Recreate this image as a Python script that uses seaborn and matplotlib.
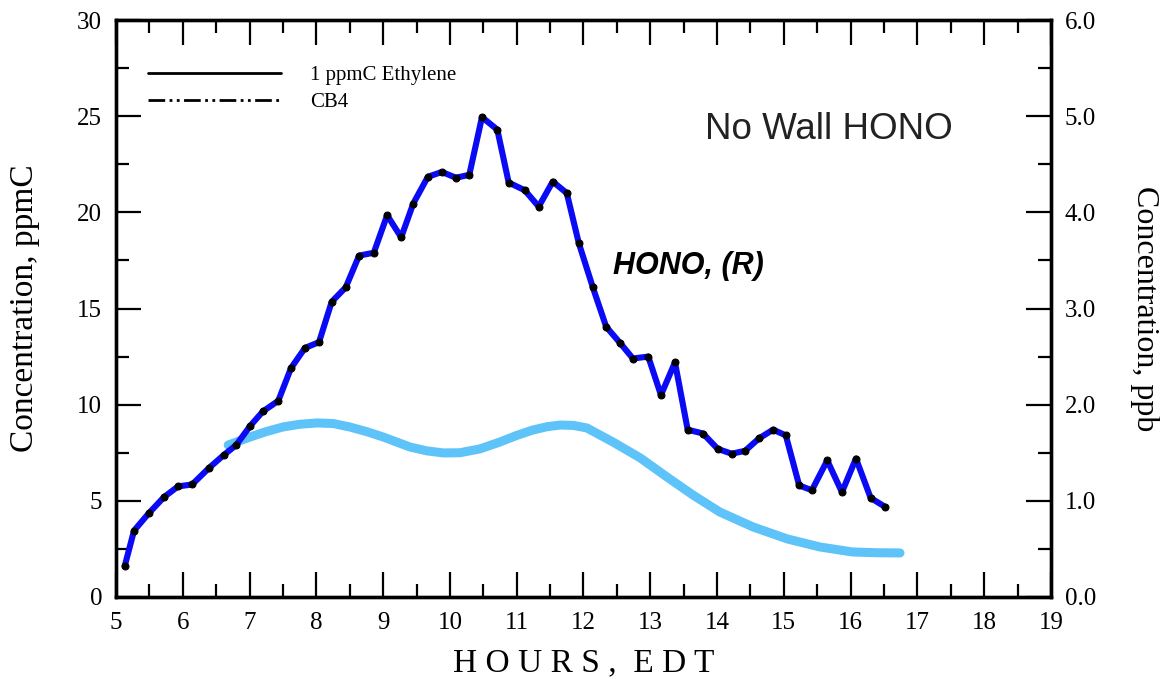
import numpy as np
import pandas as pd
import matplotlib
matplotlib.use("Agg")
import matplotlib.pyplot as plt
import seaborn as sns
from matplotlib.lines import Line2D
from matplotlib.ticker import MultipleLocator, FormatStrFormatter

# measured HONO (right axis, ppb)
hono_hours = [5.13, 5.27, 5.49, 5.72, 5.93, 6.14, 6.39, 6.62, 6.80, 7.01,
              7.20, 7.43, 7.62, 7.83, 8.04, 8.23, 8.44, 8.64, 8.86, 9.06,
              9.27, 9.45, 9.67, 9.88, 10.09, 10.29, 10.48, 10.71, 10.88, 11.12,
              11.33, 11.54, 11.75, 11.93, 12.14, 12.34, 12.55, 12.74, 12.97, 13.16,
              13.37, 13.56, 13.79, 14.01, 14.22, 14.42, 14.63, 14.84, 15.03, 15.23,
              15.42, 15.65, 15.87, 16.08, 16.30, 16.51]
hono_ppb = [0.32, 0.69, 0.87, 1.04, 1.15, 1.17, 1.34, 1.48, 1.58, 1.78,
            1.93, 2.04, 2.38, 2.59, 2.65, 3.07, 3.22, 3.55, 3.58, 3.97,
            3.74, 4.09, 4.37, 4.42, 4.36, 4.39, 4.99, 4.86, 4.31, 4.23,
            4.06, 4.32, 4.20, 3.68, 3.22, 2.81, 2.64, 2.48, 2.50, 2.10,
            2.44, 1.74, 1.70, 1.54, 1.49, 1.52, 1.65, 1.74, 1.68, 1.16,
            1.11, 1.42, 1.09, 1.44, 1.03, 0.94]

# light blue curve (left axis, ppmC)
sim_hours = [6.68, 7.01, 7.25, 7.50, 7.75, 8.01, 8.25, 8.50, 8.75, 9.00,
             9.40, 9.65, 9.90, 10.15, 10.45, 10.75, 11.00, 11.24, 11.45, 11.65,
             11.85, 12.05, 12.44, 12.85, 13.25, 13.64, 14.04, 14.54, 15.05,
             15.54, 16.03, 16.40, 16.74]
sim_ppmC = [7.90, 8.32, 8.60, 8.84, 8.98, 9.05, 9.02, 8.84, 8.60, 8.32,
            7.80, 7.60, 7.49, 7.50, 7.70, 8.06, 8.40, 8.68, 8.85, 8.94,
            8.92, 8.79, 8.06, 7.23, 6.24, 5.30, 4.42, 3.64, 3.02,
            2.60, 2.34, 2.30, 2.29]

legend_labels = ["1 ppmC Ethylene", "CB4"]

sns.set_style("ticks")
plt.rcParams['font.family'] = ['Liberation Serif', 'DejaVu Serif']
plt.rcParams['text.color'] = 'black'
plt.rcParams['axes.labelcolor'] = 'black'
plt.rcParams['xtick.color'] = 'black'
plt.rcParams['ytick.color'] = 'black'

fig = plt.figure(figsize=(11.6, 6.79), dpi=100)
ax = fig.add_axes([0.1, 0.1208, 0.806, 0.8497])
ax2 = ax.twinx()

sim_df = pd.DataFrame({"hours": sim_hours, "conc": sim_ppmC})
sns.lineplot(data=sim_df, x="hours", y="conc", ax=ax, color="#5EC3F9",
             lw=6.5, solid_capstyle="round", solid_joinstyle="round")

hono_df = pd.DataFrame({"hours": hono_hours, "conc": hono_ppb})
sns.lineplot(data=hono_df, x="hours", y="conc", ax=ax2, color="#0A0AF5",
             lw=4.4, marker="o", markersize=5, markerfacecolor="black",
             markeredgecolor="black", solid_joinstyle="round")

ax.set_xlim(5, 19)
ax.set_ylim(0, 30)
ax2.set_ylim(0, 6)

ax.xaxis.set_major_locator(MultipleLocator(1))
ax.xaxis.set_minor_locator(MultipleLocator(0.5))
ax.yaxis.set_major_locator(MultipleLocator(5))
ax.yaxis.set_minor_locator(MultipleLocator(2.5))
ax2.yaxis.set_major_locator(MultipleLocator(1))
ax2.yaxis.set_minor_locator(MultipleLocator(0.5))
ax2.yaxis.set_major_formatter(FormatStrFormatter('%.1f'))

ax.tick_params(axis='x', which='both', direction='in', top=True, bottom=True,
               labelsize=18, pad=11)
ax.tick_params(axis='y', which='both', direction='in', left=True, right=False,
               labelsize=18, pad=10)
ax2.tick_params(axis='y', which='both', direction='in', right=True, left=False,
                labelsize=18, pad=10)
for a in (ax, ax2):
    a.tick_params(which='major', length=18, width=1.6, color='black')
    a.tick_params(which='minor', length=9.5, width=1.6, color='black')
    for s in a.spines.values():
        s.set_linewidth(2.4)
        s.set_color('black')

ax.set_xlabel("H O U R S ,  E D T", fontsize=24, labelpad=10)
ax.set_ylabel("Concentration, ppmC", fontsize=24, labelpad=27)
ax2.set_ylabel("Concentration, ppb", fontsize=23, rotation=270, labelpad=46)

ax.text(0.63, 0.81, "No Wall HONO", transform=ax.transAxes, fontsize=26.5,
        family=['Liberation Sans', 'DejaVu Sans'], color='#222222', va='center')
ax.text(0.5316, 0.574, "HONO, (R)", transform=ax.transAxes, fontsize=22,
        family=['Liberation Sans', 'DejaVu Sans'], fontweight='bold',
        fontstyle='italic', va='center', color='black')

handles = [Line2D([], [], color='black', lw=2.0),
           Line2D([], [], color='black', lw=2.0, dashes=[6, 1.6, 1, 1.6, 1, 1.6])]
ax2.legend(handles, legend_labels, loc='upper left', bbox_to_anchor=(0.034, 0.921),
           frameon=False, fontsize=15, handlelength=6.4, handletextpad=1.4,
           labelspacing=0.35, borderpad=0, borderaxespad=0)

fig.savefig("out.png", dpi=100)
